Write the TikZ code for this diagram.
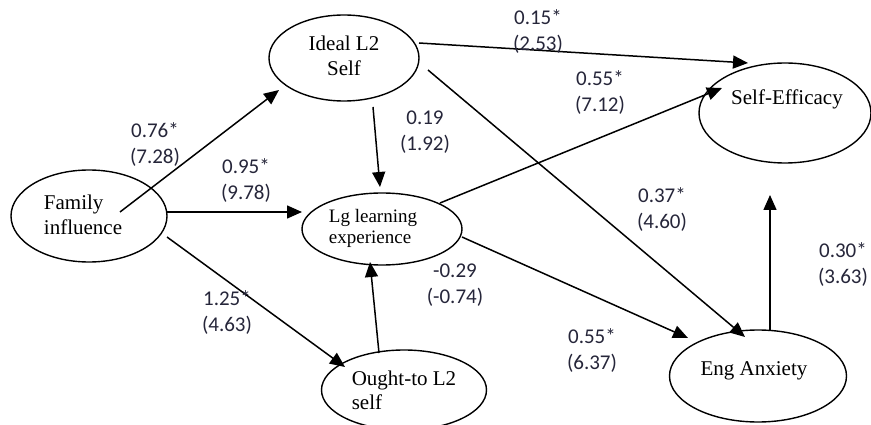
\documentclass[tikz,border=0pt]{standalone}
\usepackage{fontspec}
\setmainfont{Liberation Serif}
\newfontfamily\labfont{Carlito}
\usetikzlibrary{arrows.meta,shapes.geometric,calc}
\definecolor{labcol}{RGB}{38,38,58}
\begin{document}
\begin{tikzpicture}[x=1pt,y=-1pt,
 oval/.style={draw,ellipse,line width=1.4pt,inner sep=0pt},
 txt/.style={font=\fontsize{21}{25}\selectfont,inner sep=0pt},
 lab/.style={font=\labfont\fontsize{21}{26}\selectfont,align=center,inner sep=0pt,text=labcol},
 arr/.style={line width=1.5pt,-{Triangle[length=15pt,width=13pt]}}]
\useasboundingbox[fill=white] (0,0) rectangle (871,425);
% ellipses
\node[oval,minimum width=156pt,minimum height=92pt] (fam) at (89,216) {};
\node[oval,minimum width=150pt,minimum height=86pt] (ideal) at (344,58) {};
\node[oval,minimum width=160pt,minimum height=72pt] (lg) at (382,229) {};
\node[oval,minimum width=165pt,minimum height=80pt] (ought) at (404,390) {};
\node[oval,minimum width=172pt,minimum height=100pt] (self) at (785,113) {};
\node[oval,minimum width=177pt,minimum height=92pt] (eng) at (758,376) {};
% texts
\node[txt,align=left] (tfam) at (83,215) {Family\\influence};
\node[txt,align=center] (tideal) at (344,56) {Ideal L2\\Self};
\node[txt,align=left,font=\fontsize{19}{21}\selectfont] (tlg) at (373,228) {Lg learning\\experience};
\node[txt,align=left,font=\fontsize{21}{24}\selectfont] (tought) at (404,390) {Ought-to L2\\self};
\node[txt] (tself) at (787,99) {Self-Efficacy};
\node[txt] (teng) at (754,371) {Eng Anxiety};
% arrows
\draw[arr] ($(fam.center)+(31,-4)$) -- ($(ideal.center)+(-65,32)$);
\draw[arr] ($(fam.center)+(78,-4)$) -- ($(lg.center)+(-80,-17)$);
\draw[arr] ($(fam.center)+(78,21)$) -- ($(ought.center)+(-59,-23)$);
\draw[arr] ($(ideal.center)+(29,49)$) -- ($(lg.center)+(-2,-42)$);
\draw[arr] ($(ought.center)+(-25,-37)$) -- ($(lg.center)+(-12,33)$);
\draw[arr] ($(ideal.center)+(75,-15)$) -- ($(self.center)+(-37,-50)$);
\draw[arr] ($(ideal.center)+(84,12)$) -- ($(eng.center)+(-13,-39)$);
\draw[arr] ($(lg.center)+(58,-26)$) -- ($(self.center)+(-63,-25)$);
\draw[arr] ($(lg.center)+(80,8)$) -- ($(eng.center)+(-70,-38)$);
\draw[arr] ($(eng.center)+(12,-46)$) -- ($(self.center)+(-15,82)$);
% labels
\node[lab] (l1) at (155,145) {0.76*\\(7.28)};
\node[lab] (l2) at (246,181) {0.95*\\(9.78)};
\node[lab] (l3) at (425,132) {0.19\\(1.92)};
\node[lab] (l4) at (538,32) {0.15*\\(2.53)};
\node[lab] (l5) at (600,93) {0.55*\\(7.12)};
\node[lab] (l6) at (662,210) {0.37*\\(4.60)};
\node[lab] (l7) at (843,265) {0.30*\\(3.63)};
\node[lab] (l8) at (455,285) {-0.29\\(-0.74)};
\node[lab] (l9) at (227,313) {1.25*\\(4.63)};
\node[lab] (l10) at (592,351) {0.55*\\(6.37)};
\end{tikzpicture}
\end{document}
